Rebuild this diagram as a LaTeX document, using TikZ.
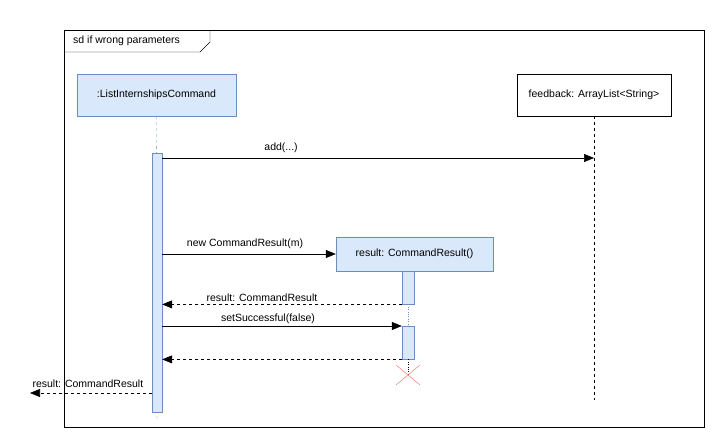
\documentclass[tikz,border=0pt]{standalone}
\usepackage{fontspec}
\setmainfont{Liberation Sans}
\usetikzlibrary{arrows.meta,calc}
\definecolor{bfill}{HTML}{DAE8FC}
\definecolor{bline}{HTML}{6C8EBF}
\begin{document}
\begin{tikzpicture}[x=1pt,y=-1pt,font=\fontsize{10.5}{12}\selectfont,
  blue/.style={draw=bline,fill=bfill},
  msg/.style={-{Triangle[length=10pt,width=8pt]},semithick},
  ret/.style={-{Triangle[length=10pt,width=8pt]},dashed,semithick},
  life/.style={draw=bline,dashed},
  lbl/.style={inner sep=1pt}]
\useasboundingbox (0,0) rectangle (724,443);
\draw[semithick] (64,30) rectangle (704,427);
\draw (64,52) -- (200,52) -- (210,42) -- (210,30);
\node[lbl,anchor=west] (sd) at (72,41) {sd if wrong parameters};
% lifelines
\node[blue,minimum width=159pt,minimum height=42pt] (lic) at (156.5,95) {:ListInternshipsCommand};
\node[draw,fill=white,minimum width=154pt,minimum height=42pt] (fb) at (594,95) {feedback: ArrayList<String>};
\coordinate (licend) at (157,420);
\coordinate (fbend) at (594,400);
\draw[life] (lic.south) -- (licend);
\draw[dashed] (fb.south) -- (fbend);
\node[blue,minimum width=10pt,minimum height=259pt,inner sep=0pt,anchor=north] (act) at (157,153) {};
% add
\coordinate (fbadd) at (594,158);
\draw[msg] (act.north east|-fbadd) -- (fbadd) node[lbl,midway,above=4pt,xshift=-97pt] {add(...)};
% result
\node[blue,minimum width=157pt,minimum height=34pt] (res) at (414.5,254) {result: CommandResult()};
\node[blue,minimum width=12pt,minimum height=33pt,inner sep=0pt,anchor=north] (ra1) at (408,271) {};
\node[blue,minimum width=12pt,minimum height=33pt,inner sep=0pt,anchor=north] (ra2) at (408,326) {};
\coordinate (xx) at (408,375);
\draw[life,dotted] (ra1.south) -- (ra2.north);
\draw[dotted] (ra2.south) -- (xx);
\draw[red!60!brown!70] ($(xx)+(-12,-10)$) -- ($(xx)+(12,10)$) ($(xx)+(-12,10)$) -- ($(xx)+(12,-10)$);
\draw[msg] (act.east|-res.west) -- (res.west) node[lbl,midway,above=4pt,xshift=-4pt] {new CommandResult(m)};
\draw[ret] (ra1.south west) -- (act.east|-ra1.south) node[lbl,midway,above=1pt,xshift=-20pt] {result: CommandResult};
\draw[msg] (act.east|-ra2.north) -- (ra2.north west) node[lbl,midway,above=1pt,xshift=-14pt] {setSuccessful(false)};
\draw[ret] (ra2.south west) -- (act.east|-ra2.south);
\coordinate (out) at (30,393);
\draw[ret] (act.west|-out) -- (out) node[lbl,pos=0.5,above=4pt,xshift=-3pt] {result: CommandResult};
\end{tikzpicture}
\end{document}
